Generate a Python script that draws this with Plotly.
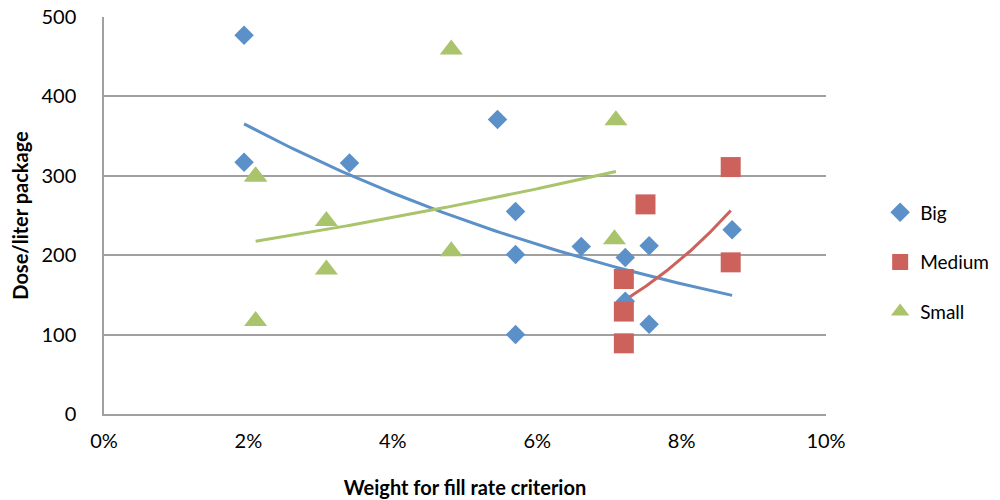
import numpy as np
import plotly.graph_objects as go

# Weight for fill rate criterion (fraction) and dose per liter package
big_x = [0.0194, 0.0194, 0.0340, 0.0545, 0.0570, 0.0570, 0.0570, 0.0661, 0.0722, 0.0722, 0.0755, 0.0755, 0.0870]
big_y = [477, 317, 316, 371, 255, 201, 100, 211, 197, 142, 212, 113, 232]

medium_x = [0.0720, 0.0720, 0.0720, 0.0750, 0.0868, 0.0868]
medium_y = [170, 129, 89, 264, 311, 191]

small_x = [0.0481, 0.0210, 0.0210, 0.0308, 0.0308, 0.0210, 0.0481, 0.0709, 0.0707]
small_y = [459, 299, 299, 243, 182, 117, 205, 370, 220]

x_ticks = [0, 0.02, 0.04, 0.06, 0.08, 0.10]
y_ticks = [0, 100, 200, 300, 400, 500]

series = [
    ("Big", big_x, big_y, "#5B90C8", "diamond", 15),
    ("Medium", medium_x, medium_y, "#CD625C", "square", 20),
    ("Small", small_x, small_y, "#A9C46A", "triangle-up", 20),
]

FONT = "Lato, Calibri, sans-serif"

fig = go.Figure()

# Exponential trendlines fitted to each series
for name, xs, ys, color, symbol, size in series:
    xs_a = np.array(xs)
    ys_a = np.array(ys, dtype=float)
    b, a = np.polyfit(xs_a, np.log(ys_a), 1)
    xt = np.linspace(xs_a.min(), xs_a.max(), 100)
    yt = np.exp(a + b * xt)
    fig.add_trace(go.Scatter(
        x=xt, y=yt, mode="lines", showlegend=False, hoverinfo="skip",
        line=dict(color=color, width=3),
    ))

for name, xs, ys, color, symbol, size in series:
    fig.add_trace(go.Scatter(
        x=xs, y=ys, mode="markers", name=name, legendgroup=name,
        marker=dict(symbol=symbol, size=size, color=color, line=dict(width=0)),
    ))

fig.update_layout(
    width=1000, height=500,
    margin=dict(l=104, r=174, t=17, b=85.5, autoexpand=False),
    paper_bgcolor="white", plot_bgcolor="white",
    font=dict(family=FONT, size=20, color="black"),
    legend=dict(
        x=1.075, y=0.382, xanchor="left", yanchor="middle",
        font=dict(size=19), tracegroupgap=22, bgcolor="rgba(0,0,0,0)",
        itemwidth=30,
    ),
    xaxis=dict(
        range=[0, 0.10], tickvals=x_ticks, tickformat=".0%",
        showgrid=False, zeroline=False, showline=True, automargin=False,
        linecolor="#A0A0A0", linewidth=1.5, ticks="",
        ticklabelstandoff=8,
        title=dict(text="<b>Weight for fill rate criterion</b>", font=dict(size=20), standoff=30),
    ),
    yaxis=dict(
        range=[0, 500], tickvals=y_ticks, automargin=False,
        showgrid=True, gridcolor="#A0A0A0", gridwidth=1.5,
        zeroline=False, showline=True, linecolor="#A0A0A0", linewidth=1.5, ticks="",
        ticklabelstandoff=22,
        title=dict(text="<b>Dose/liter package</b>", font=dict(size=20), standoff=7),
    ),
)

fig.write_html("out.html")
